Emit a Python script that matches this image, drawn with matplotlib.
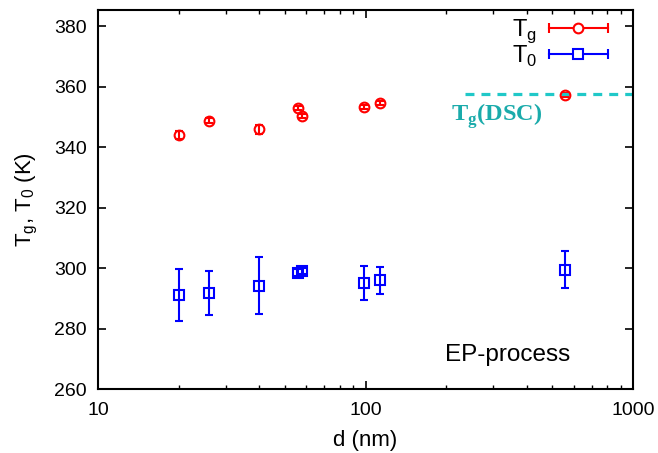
import numpy as np
import matplotlib
matplotlib.use("Agg")
import matplotlib.pyplot as plt
from matplotlib.lines import Line2D
from matplotlib.legend_handler import HandlerBase
from matplotlib.ticker import FuncFormatter

plt.rcParams['font.family'] = ['Liberation Sans', 'DejaVu Sans']

# data
d_tg = [20, 26, 40, 56, 58, 99, 113, 555]
tg = [344.0, 348.7, 345.8, 353.0, 350.3, 353.3, 354.6, 357.3]
tg_err = [1.3, 0.8, 1.4, 0.6, 0.6, 0.7, 0.7, 0.6]

d_t0 = [20, 26, 40, 56, 58, 99, 113, 555]
t0 = [291.0, 291.8, 294.2, 298.5, 299.0, 295.1, 296.0, 299.5]
t0_err = [8.6, 7.3, 9.3, 1.1, 1.1, 5.7, 4.5, 6.1]

dsc_range = [236, 1000]
tg_dsc = 357.5


class HandlerXErr(HandlerBase):
    # gnuplot-like legend sample: horizontal error bar with marker in the middle
    def create_artists(self, legend, orig_handle, xdescent, ydescent,
                       width, height, fontsize, trans):
        c = orig_handle.get_color()
        y = height / 2 - ydescent
        x0, x1 = -xdescent, -xdescent + width
        bar = Line2D([x0, x1], [y, y], color=c, lw=1.5)
        caps = Line2D([x0, x1], [y, y], color=c, ls='none', marker='|', ms=7, mew=1.5)
        mk = Line2D([(x0 + x1) / 2], [y], ls='none', marker=orig_handle.get_marker(),
                    mfc='white', mec=c, ms=7, mew=1.5)
        for a in (bar, caps, mk):
            a.set_transform(trans)
        return [bar, caps, mk]


fig = plt.figure(figsize=(6.58, 4.53), dpi=100)
ax = fig.add_axes([0.149, 0.141, 0.813, 0.837])

eb1 = ax.errorbar(d_tg, tg, yerr=tg_err, fmt='o', color='red', mfc='none', mec='red',
                  ms=7, mew=1.5, elinewidth=1.5, capsize=3, capthick=1.5)
eb2 = ax.errorbar(d_t0, t0, yerr=t0_err, fmt='s', color='blue', mfc='none', mec='blue',
                  ms=7, mew=1.5, elinewidth=1.5, capsize=3, capthick=1.5)
ax.plot(dsc_range, [tg_dsc, tg_dsc], ls=(0, (2.8, 2.2)), color='#20c8c8', lw=2.3)

ax.text(209, 350.2, 'T$_\\mathregular{g}$(DSC)', color='#1aabab', fontsize=17.5,
        fontweight='bold', family=['Liberation Serif', 'DejaVu Serif'], ha='left', va='center')
ax.text(0.649, 0.09, 'EP-process', transform=ax.transAxes, fontsize=17.5, ha='left', va='center')

ax.set_xscale('log')
ax.set_xlim(10, 1000)
ax.set_ylim(260, 385.3)
ax.set_yticks(np.arange(260, 381, 20))
ax.xaxis.set_major_formatter(FuncFormatter(lambda v, p: '%d' % v))
ax.set_xlabel('d (nm)', fontsize=16, labelpad=8)
ax.set_ylabel('T$_\\mathregular{g}$, T$_\\mathregular{0}$ (K)', fontsize=16)
ax.yaxis.set_label_coords(-0.108, 0.5)
ax.tick_params(which='both', direction='in', top=True, right=True, labelsize=14)
ax.tick_params(axis='x', which='major', pad=9)
ax.tick_params(axis='y', which='major', pad=8)
ax.tick_params(which='major', length=6, width=1.2)
ax.tick_params(which='minor', length=3, width=1.0)
for s in ax.spines.values():
    s.set_linewidth(1.5)

ax.legend([eb1.lines[0], eb2.lines[0]], ['T$_\\mathregular{g}$', 'T$_\\mathregular{0}$'],
          handler_map={Line2D: HandlerXErr()}, loc='upper right', bbox_to_anchor=(0.953, 0.98),
          markerfirst=False, frameon=False, fontsize=17, handlelength=2.5,
          handletextpad=0.5, labelspacing=-0.08, borderpad=0, borderaxespad=0)

fig.savefig('out.png', dpi=100)
